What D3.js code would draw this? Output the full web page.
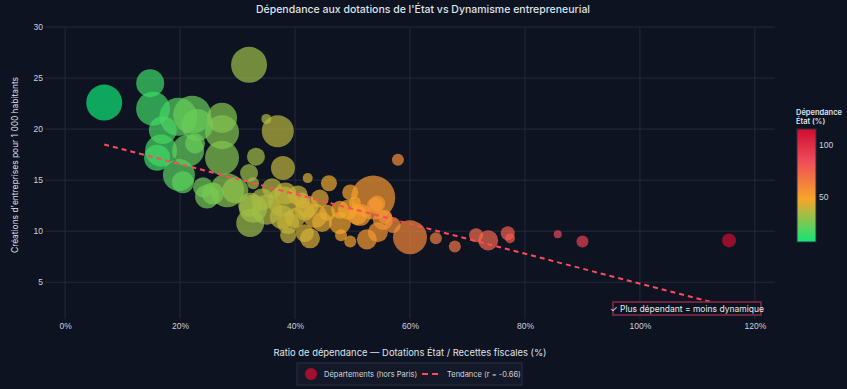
<!DOCTYPE html>
<html>
<head>
<meta charset="utf-8">
<script src="https://cdn.jsdelivr.net/npm/d3@7"></script>
<style>
  html, body { margin: 0; padding: 0; background: #0e1322; }
  svg { display: block; font-family: Inter, "Noto Sans", sans-serif; }
</style>
</head>
<body>
<div id="chart"></div>
<script>
// ratio de dépendance (%), créations pour 1 000 hab., population (milliers)
let ratio = [6.8, 14.8, 15.3, 32.0, 17.0, 19.7, 22.1, 23.0, 27.3, 27.3, 35.0, 37.0, 16.7, 16.0, 21.4, 22.6,
  27.3, 33.2, 37.9, 42.2, 19.8, 20.5, 32.0, 32.7, 24.0, 24.7, 28.2, 29.6, 25.7, 32.2, 36.0, 38.3,
  32.7, 34.3, 32.2, 35.1, 37.7, 38.8, 38.8, 41.7, 42.6, 43.5, 41.7, 44.7, 41.2, 44.3, 40.0, 45.9,
  57.9, 53.6, 60.0, 49.6, 53.9, 50.4, 47.8, 50.8, 45.6, 47.8, 48.0, 49.6, 52.5, 54.4, 55.7, 57.0,
  64.5, 67.8, 71.5, 73.6, 77.0, 77.4, 85.7, 90.0, 115.5, 40.5, 42.1, 49.2, 51.3, 54.3, 55.3, 37.9];
let creations = [22.6, 24.5, 22.0, 26.3, 19.9, 21.2, 21.4, 20.4, 21.1, 19.7, 21.0, 19.8, 17.9, 17.2, 17.9, 18.6,
  17.2, 17.3, 16.2, 15.2, 15.5, 14.8, 15.7, 14.7, 14.3, 13.4, 14.0, 14.0, 13.7, 12.6, 14.2, 13.7,
  12.2, 13.1, 10.8, 12.1, 11.4, 10.8, 9.6, 9.8, 9.3, 11.5, 12.0, 10.9, 13.0, 13.2, 11.3, 14.7,
  17.0, 13.3, 9.4, 13.8, 12.5, 12.8, 12.1, 11.6, 11.8, 10.8, 9.6, 9.0, 9.2, 9.9, 11.4, 10.6,
  9.3, 8.5, 9.6, 9.1, 9.8, 9.3, 9.7, 9.0, 9.1, 13.5, 12.4, 12.1, 11.6, 12.7, 11.1, 12.9];
let population = [1740, 1050, 1550, 1740, 1050, 1940, 1940, 1375, 1210, 1550, 134, 1375, 1375, 910, 1375, 540,
  1550, 435, 775, 134, 1375, 650, 435, 193, 540, 775, 1550, 910, 650, 775, 540, 650,
  1050, 650, 1050, 1210, 775, 650, 345, 435, 540, 775, 540, 540, 345, 435, 540, 345,
  193, 2600, 1550, 345, 345, 193, 435, 540, 345, 650, 193, 193, 540, 540, 263, 345,
  193, 193, 263, 540, 263, 134, 86, 193, 263, 540, 650, 540, 650, 345, 540, 1210];

let trendX = [6.8, 115.5];
let trendY = [18.5, 2.6];

let xTicks = [0, 20, 40, 60, 80, 100, 120];
let yTicks = [5, 10, 15, 20, 25, 30];
let colorTicks = [50, 100];

let width = 847;
let height = 389;
let plotLeft = 45, plotRight = 775, plotTop = 27, plotBottom = 319;

let points = ratio.map((r, i) => ({ ratio: r, creations: creations[i], pop: population[i] }));
points.sort((a, b) => b.pop - a.pop);

let xScale = d3.scaleLinear().domain([-3.5, 123.5]).range([plotLeft, plotRight]);
let yScale = d3.scaleLinear().domain([1.4, 30]).range([plotBottom, plotTop]);
let rScale = d3.scaleSqrt().domain([0, d3.max(population)]).range([0, 22]);

let cMin = d3.min(ratio), cMax = d3.max(ratio);
let stops = ["#10e676", "#f7a62a", "#ef4a5a", "#cf0d2f"];
let stopPos = [0, 0.38, 0.72, 1];
let colorScale = d3.scaleLinear()
  .domain(stopPos.map((p) => cMin + p * (cMax - cMin)))
  .range(stops);

var svg = d3.select("#chart").append("svg")
  .attr("width", width)
  .attr("height", height);

svg.append("rect").attr("width", width).attr("height", height).attr("fill", "#0e1322");

// grid
svg.append("g")
  .selectAll("line")
  .data(xTicks)
  .enter()
  .append("line")
  .attr("x1", (d) => xScale(d)).attr("x2", (d) => xScale(d))
  .attr("y1", plotTop).attr("y2", plotBottom)
  .attr("stroke", "#232a3b").attr("stroke-width", 1);

svg.append("g")
  .selectAll("line")
  .data(yTicks)
  .enter()
  .append("line")
  .attr("x1", plotLeft).attr("x2", plotRight)
  .attr("y1", (d) => yScale(d)).attr("y2", (d) => yScale(d))
  .attr("stroke", "#232a3b").attr("stroke-width", 1);

// axes
let xAxis = d3.axisBottom(xScale).tickValues(xTicks).tickFormat((d) => d + "%").tickSize(0).tickPadding(4);
let yAxis = d3.axisLeft(yScale).tickValues(yTicks).tickSize(0).tickPadding(2);

let gx = svg.append("g").attr("transform", "translate(0," + plotBottom + ")").call(xAxis);
let gy = svg.append("g").attr("transform", "translate(" + plotLeft + ",0)").call(yAxis);
[gx, gy].forEach((g) => {
  g.select(".domain").remove();
  g.selectAll("text").attr("fill", "#cdd2db").style("font-size", "8.5px");
});

// bubbles
svg.append("g")
  .selectAll("circle")
  .data(points)
  .enter()
  .append("circle")
  .attr("cx", (d) => xScale(d.ratio))
  .attr("cy", (d) => yScale(d.creations))
  .attr("r", (d) => rScale(d.pop))
  .attr("fill", (d) => colorScale(d.ratio))
  .attr("fill-opacity", 0.7);

// trend
svg.append("path")
  .datum(trendX.map((x, i) => [x, trendY[i]]))
  .attr("d", d3.line().x((d) => xScale(d[0])).y((d) => yScale(d[1])))
  .attr("fill", "none")
  .attr("stroke", "#ff4a5c")
  .attr("stroke-width", 2)
  .attr("stroke-dasharray", "5,4");

// annotation
let ann = svg.append("g").attr("transform", "translate(613,302)");
ann.append("rect").attr("width", 148).attr("height", 13)
  .attr("fill", "#0e1322").attr("stroke", "#8a2a48").attr("stroke-width", 1.5);
ann.append("text").attr("x", 74).attr("y", 9.6).attr("text-anchor", "middle")
  .attr("fill", "#e6e8ec").style("font-size", "8.5px")
  .text("✓ Plus dépendant = moins dynamique");

// titles
svg.append("text").attr("x", 423).attr("y", 13).attr("text-anchor", "middle")
  .attr("fill", "#dfe2e8").style("font-size", "10.5px").style("font-weight", 500)
  .text("Dépendance aux dotations de l'État vs Dynamisme entrepreneurial");

svg.append("text").attr("x", 410).attr("y", 356).attr("text-anchor", "middle")
  .attr("fill", "#dfe2e8").style("font-size", "9.4px")
  .text("Ratio de dépendance — Dotations État / Recettes fiscales (%)");

svg.append("text").attr("transform", "translate(18,165) rotate(-90)").attr("text-anchor", "middle")
  .attr("fill", "#dfe2e8").style("font-size", "8.6px")
  .attr("textLength", 176).attr("lengthAdjust", "spacingAndGlyphs")
  .text("Créations d'entreprises pour 1 000 habitants");

// colorbar
let defs = svg.append("defs");
let grad = defs.append("linearGradient").attr("id", "cbar")
  .attr("x1", 0).attr("y1", 1).attr("x2", 0).attr("y2", 0);
grad.selectAll("stop")
  .data(stops)
  .enter()
  .append("stop")
  .attr("offset", (d, i) => stopPos[i])
  .attr("stop-color", (d) => d);

let cbScale = d3.scaleLinear().domain([cMin, cMax]).range([242, 129]);
svg.append("rect").attr("x", 797).attr("y", 129).attr("width", 19).attr("height", 113)
  .attr("fill", "url(#cbar)").attr("stroke", "#2a3142").attr("stroke-width", 1);
let cbAxis = d3.axisRight(cbScale).tickValues(colorTicks).tickSize(0).tickPadding(3);
let gc = svg.append("g").attr("transform", "translate(816,0)").call(cbAxis);
gc.select(".domain").remove();
gc.selectAll("text").attr("fill", "#cdd2db").style("font-size", "8.5px");

svg.append("text").attr("x", 796).attr("y", 115).attr("fill", "#dfe2e8")
  .style("font-size", "7.5px").style("font-weight", 600).text("Dépendance");
svg.append("text").attr("x", 796).attr("y", 124).attr("fill", "#dfe2e8")
  .style("font-size", "7.5px").style("font-weight", 600).text("État (%)");

// legend
let lg = svg.append("g").attr("transform", "translate(297,363)");
lg.append("rect").attr("width", 225).attr("height", 22)
  .attr("fill", "#131928").attr("stroke", "#2a3142").attr("stroke-width", 1);
lg.append("circle").attr("cx", 14).attr("cy", 11).attr("r", 6).attr("fill", "#a3102f");
lg.append("text").attr("x", 27).attr("y", 14).attr("fill", "#d3d6dd").style("font-size", "7.5px")
  .text("Départements (hors Paris)");
lg.append("line").attr("x1", 125).attr("x2", 144).attr("y1", 11).attr("y2", 11)
  .attr("stroke", "#ff4a5c").attr("stroke-width", 2).attr("stroke-dasharray", "6,4");
lg.append("text").attr("x", 150).attr("y", 14).attr("fill", "#d3d6dd").style("font-size", "7.5px")
  .text("Tendance (r = -0.66)");
</script>
</body>
</html>
